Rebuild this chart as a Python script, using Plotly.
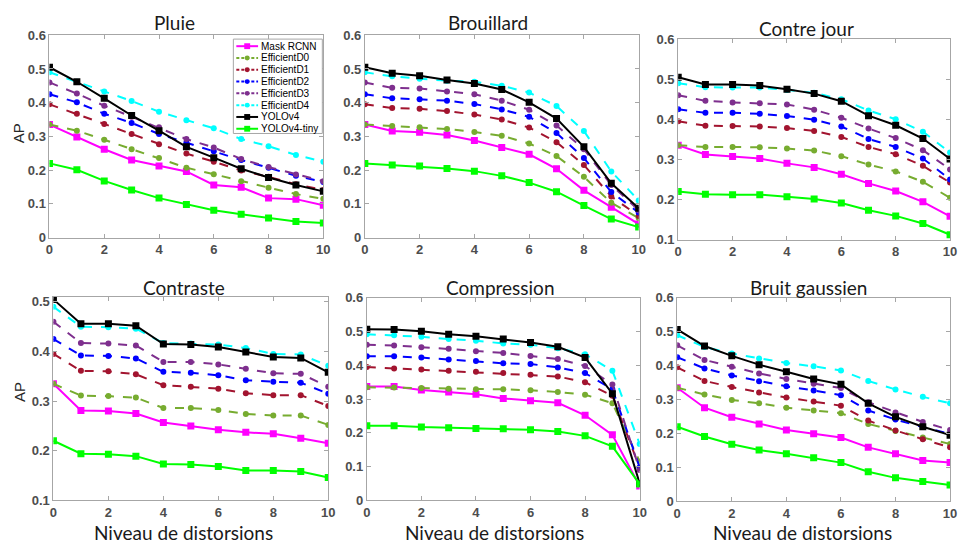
import plotly.graph_objects as go

x_levels = list(range(11))

series_names = ["Mask RCNN", "EfficientD0", "EfficientD1", "EfficientD2",
                "EfficientD3", "EfficientD4", "YOLOv4", "YOLOv4-tiny"]

panel_titles = ["Pluie", "Brouillard", "Contre jour",
                "Contraste", "Compression", "Bruit gaussien"]

pluie = {
    "Mask RCNN":   [0.335, 0.298, 0.262, 0.230, 0.212, 0.196, 0.156, 0.149, 0.117, 0.114, 0.096],
    "EfficientD0": [0.335, 0.317, 0.290, 0.262, 0.236, 0.207, 0.188, 0.167, 0.148, 0.129, 0.115],
    "EfficientD1": [0.395, 0.367, 0.337, 0.307, 0.277, 0.249, 0.225, 0.199, 0.180, 0.158, 0.141],
    "EfficientD2": [0.425, 0.401, 0.367, 0.340, 0.307, 0.281, 0.256, 0.230, 0.207, 0.183, 0.165],
    "EfficientD3": [0.460, 0.427, 0.391, 0.358, 0.327, 0.292, 0.267, 0.233, 0.209, 0.187, 0.167],
    "EfficientD4": [0.490, 0.462, 0.433, 0.405, 0.373, 0.348, 0.324, 0.292, 0.271, 0.245, 0.225],
    "YOLOv4":      [0.505, 0.462, 0.413, 0.362, 0.317, 0.269, 0.237, 0.204, 0.178, 0.156, 0.137],
    "YOLOv4-tiny": [0.220, 0.201, 0.168, 0.141, 0.117, 0.098, 0.081, 0.069, 0.058, 0.048, 0.043],
}

brouillard = {
    "Mask RCNN":   [0.335, 0.316, 0.312, 0.304, 0.288, 0.267, 0.247, 0.204, 0.140, 0.090, 0.040],
    "EfficientD0": [0.335, 0.331, 0.327, 0.322, 0.313, 0.302, 0.279, 0.242, 0.180, 0.103, 0.058],
    "EfficientD1": [0.395, 0.384, 0.382, 0.375, 0.365, 0.350, 0.326, 0.283, 0.215, 0.122, 0.064],
    "EfficientD2": [0.425, 0.413, 0.410, 0.406, 0.396, 0.380, 0.358, 0.310, 0.236, 0.135, 0.074],
    "EfficientD3": [0.460, 0.444, 0.442, 0.433, 0.425, 0.406, 0.379, 0.332, 0.262, 0.156, 0.081],
    "EfficientD4": [0.490, 0.478, 0.471, 0.465, 0.462, 0.450, 0.430, 0.390, 0.316, 0.196, 0.110],
    "YOLOv4":      [0.505, 0.487, 0.480, 0.467, 0.457, 0.439, 0.401, 0.353, 0.269, 0.161, 0.087],
    "YOLOv4-tiny": [0.220, 0.215, 0.212, 0.205, 0.197, 0.183, 0.163, 0.136, 0.095, 0.055, 0.031],
}

contre_jour = {
    "Mask RCNN":   [0.335, 0.312, 0.307, 0.302, 0.290, 0.280, 0.263, 0.240, 0.221, 0.194, 0.158],
    "EfficientD0": [0.335, 0.331, 0.331, 0.330, 0.327, 0.322, 0.308, 0.287, 0.270, 0.244, 0.204],
    "EfficientD1": [0.395, 0.384, 0.383, 0.382, 0.378, 0.371, 0.356, 0.331, 0.313, 0.284, 0.242],
    "EfficientD2": [0.425, 0.416, 0.416, 0.414, 0.408, 0.399, 0.382, 0.351, 0.331, 0.302, 0.250],
    "EfficientD3": [0.460, 0.446, 0.442, 0.440, 0.437, 0.424, 0.404, 0.377, 0.353, 0.323, 0.275],
    "EfficientD4": [0.490, 0.480, 0.479, 0.479, 0.473, 0.466, 0.450, 0.422, 0.400, 0.369, 0.317],
    "YOLOv4":      [0.505, 0.487, 0.487, 0.484, 0.475, 0.464, 0.445, 0.409, 0.385, 0.352, 0.301],
    "YOLOv4-tiny": [0.220, 0.213, 0.212, 0.212, 0.207, 0.201, 0.191, 0.173, 0.159, 0.140, 0.112],
}

contraste = {
    "Mask RCNN":   [0.335, 0.281, 0.280, 0.275, 0.257, 0.250, 0.242, 0.237, 0.234, 0.225, 0.215],
    "EfficientD0": [0.335, 0.311, 0.310, 0.307, 0.286, 0.286, 0.282, 0.274, 0.271, 0.271, 0.252],
    "EfficientD1": [0.395, 0.361, 0.360, 0.354, 0.332, 0.329, 0.325, 0.316, 0.312, 0.312, 0.290],
    "EfficientD2": [0.425, 0.392, 0.391, 0.386, 0.359, 0.357, 0.352, 0.342, 0.339, 0.337, 0.315],
    "EfficientD3": [0.460, 0.417, 0.416, 0.412, 0.379, 0.379, 0.374, 0.365, 0.356, 0.355, 0.329],
    "EfficientD4": [0.490, 0.450, 0.449, 0.446, 0.417, 0.416, 0.414, 0.407, 0.395, 0.394, 0.371],
    "YOLOv4":      [0.505, 0.456, 0.456, 0.452, 0.415, 0.414, 0.409, 0.399, 0.389, 0.387, 0.358],
    "YOLOv4-tiny": [0.220, 0.194, 0.193, 0.189, 0.173, 0.172, 0.168, 0.160, 0.160, 0.158, 0.146],
}

compression = {
    "Mask RCNN":   [0.337, 0.337, 0.327, 0.321, 0.314, 0.302, 0.295, 0.289, 0.252, 0.194, 0.042],
    "EfficientD0": [0.335, 0.334, 0.333, 0.331, 0.329, 0.329, 0.326, 0.321, 0.313, 0.288, 0.115],
    "EfficientD1": [0.395, 0.391, 0.388, 0.384, 0.381, 0.377, 0.372, 0.367, 0.350, 0.310, 0.096],
    "EfficientD2": [0.427, 0.427, 0.423, 0.417, 0.413, 0.406, 0.404, 0.394, 0.377, 0.329, 0.098],
    "EfficientD3": [0.461, 0.459, 0.454, 0.449, 0.442, 0.437, 0.428, 0.419, 0.398, 0.343, 0.090],
    "EfficientD4": [0.492, 0.489, 0.485, 0.478, 0.473, 0.465, 0.461, 0.451, 0.433, 0.384, 0.167],
    "YOLOv4":      [0.507, 0.506, 0.501, 0.492, 0.486, 0.478, 0.468, 0.455, 0.423, 0.316, 0.050],
    "YOLOv4-tiny": [0.221, 0.221, 0.217, 0.215, 0.213, 0.212, 0.209, 0.204, 0.191, 0.160, 0.048],
}

bruit = {
    "Mask RCNN":   [0.335, 0.276, 0.248, 0.228, 0.210, 0.199, 0.188, 0.159, 0.140, 0.120, 0.114],
    "EfficientD0": [0.335, 0.315, 0.299, 0.289, 0.276, 0.268, 0.260, 0.228, 0.207, 0.188, 0.169],
    "EfficientD1": [0.395, 0.355, 0.337, 0.321, 0.306, 0.294, 0.282, 0.238, 0.209, 0.183, 0.159],
    "EfficientD2": [0.425, 0.392, 0.371, 0.354, 0.339, 0.327, 0.313, 0.268, 0.241, 0.219, 0.199],
    "EfficientD3": [0.460, 0.417, 0.397, 0.377, 0.361, 0.347, 0.334, 0.292, 0.262, 0.234, 0.210],
    "EfficientD4": [0.490, 0.455, 0.436, 0.421, 0.408, 0.398, 0.386, 0.355, 0.330, 0.308, 0.289],
    "YOLOv4":      [0.507, 0.458, 0.429, 0.403, 0.382, 0.361, 0.345, 0.289, 0.249, 0.220, 0.195],
    "YOLOv4-tiny": [0.220, 0.191, 0.168, 0.151, 0.140, 0.128, 0.114, 0.087, 0.069, 0.058, 0.048],
}

panels = [pluie, brouillard, contre_jour, contraste, compression, bruit]

y_ranges = [[0, 0.6], [0, 0.6], [0.1, 0.6], [0.1, 0.51], [0, 0.6], [0, 0.6]]
y_tick_vals = [[0, 0.1, 0.2, 0.3, 0.4, 0.5, 0.6],
               [0, 0.1, 0.2, 0.3, 0.4, 0.5, 0.6],
               [0.1, 0.2, 0.3, 0.4, 0.5, 0.6],
               [0.1, 0.2, 0.3, 0.4, 0.5],
               [0, 0.1, 0.2, 0.3, 0.4, 0.5, 0.6],
               [0, 0.1, 0.2, 0.3, 0.4, 0.5, 0.6]]
x_tick_vals = [0, 2, 4, 6, 8, 10]

styles = {
    "Mask RCNN":   dict(color="#FF00FF", dash="solid", symbol="square", msize=7),
    "EfficientD0": dict(color="#77AC30", dash="dash", symbol="circle", msize=6),
    "EfficientD1": dict(color="#A2142F", dash="dash", symbol="circle", msize=6),
    "EfficientD2": dict(color="#0000FF", dash="dash", symbol="circle", msize=6),
    "EfficientD3": dict(color="#7E2F8E", dash="dash", symbol="circle", msize=6),
    "EfficientD4": dict(color="#00FFFF", dash="dash", symbol="circle", msize=6),
    "YOLOv4":      dict(color="#000000", dash="solid", symbol="square", msize=7),
    "YOLOv4-tiny": dict(color="#00FF00", dash="solid", symbol="square", msize=7),
}

W, H = 964, 554
boxes = [(46, 323, 29, 237), (365, 642, 29, 237), (682, 957, 33, 239),
         (50, 328, 298, 507), (367, 643, 299, 507), (681, 957, 299, 508)]

fig = go.Figure()

for i, data in enumerate(panels):
    ax = "" if i == 0 else str(i + 1)
    for name in series_names:
        s = styles[name]
        fig.add_trace(go.Scatter(
            x=x_levels, y=data[name], name=name, mode="lines+markers",
            xaxis="x" + ax, yaxis="y" + ax,
            line=dict(color=s["color"], dash=s["dash"], width=2),
            marker=dict(symbol=s["symbol"], size=s["msize"], color=s["color"]),
            showlegend=False,
        ))

axis_common = dict(showgrid=False, zeroline=False, showline=True,
                   linecolor="#A6A6A6", linewidth=1, mirror="ticks",
                   ticks="inside", ticklen=4, tickcolor="#A6A6A6",
                   tickfont=dict(family="Liberation Sans", size=13, color="#4D4D4D", weight="bold"))

layout = dict(width=W, height=H, margin=dict(l=0, r=0, t=0, b=0),
              plot_bgcolor="white", paper_bgcolor="white", showlegend=False)

for i, (l, r, t, b) in enumerate(boxes):
    ax = "" if i == 0 else str(i + 1)
    layout["xaxis" + ax] = dict(axis_common, domain=[l / W, r / W],
                                range=[0, 10], tickvals=x_tick_vals,
                                anchor="y" + ax)
    layout["yaxis" + ax] = dict(axis_common, domain=[1 - b / H, 1 - t / H],
                                range=y_ranges[i], tickvals=y_tick_vals[i],
                                ticktext=[("%g" % v) for v in y_tick_vals[i]],
                                anchor="x" + ax)

fig.update_layout(**layout)

# ---- annotations: titles, axis labels
title_font = dict(family="Lato", size=19, color="#1A1A1A")
title_pos = [(172, 16), (490, 16), (812, 22), (182, 288), (502, 288), (814, 288)]
annotations = []
for (tx, ty), txt in zip(title_pos, panel_titles):
    annotations.append(dict(text=txt, x=tx / W, y=1 - ty / H, xref="paper", yref="paper",
                            showarrow=False, font=title_font, xanchor="center", yanchor="middle"))

label_font = dict(family="Lato", size=19, color="#1A1A1A")
for cx in [182, 496, 808]:
    annotations.append(dict(text="Niveau de distorsions", x=cx / W, y=1 - 540 / H,
                            xref="paper", yref="paper", showarrow=False, font=label_font,
                            xanchor="center", yanchor="middle"))
for cy in [130, 396]:
    annotations.append(dict(text="AP", x=15 / W, y=1 - cy / H, xref="paper", yref="paper",
                            showarrow=False, textangle=-90,
                            font=dict(family="Liberation Sans", size=15, color="#262626"),
                            xanchor="center", yanchor="middle"))

# ---- compact MATLAB-style legend inside the "Pluie" panel (paper coords)
leg_l, leg_r, leg_t, leg_b = 232, 322, 33, 130
row_h = (leg_b - leg_t) / len(series_names)
shapes = [dict(type="rect", xref="paper", yref="paper", layer="above",
               x0=leg_l / W, x1=leg_r / W, y0=1 - leg_b / H, y1=1 - leg_t / H,
               fillcolor="white", line=dict(color="#A6A6A6", width=1))]
for k, name in enumerate(series_names):
    s = styles[name]
    yc = leg_t + row_h * (k + 0.6)
    yp = 1 - yc / H
    shapes.append(dict(type="line", xref="paper", yref="paper", layer="above",
                       x0=(leg_l + 3) / W, x1=(leg_l + 25) / W, y0=yp, y1=yp,
                       line=dict(color=s["color"], width=2,
                                 dash="solid" if s["dash"] == "solid" else "3px,2px")))
    mx = leg_l + 14
    half = 3 if s["symbol"] == "square" else 2.5
    shapes.append(dict(type="rect" if s["symbol"] == "square" else "circle",
                       xref="paper", yref="paper", layer="above",
                       x0=(mx - half) / W, x1=(mx + half) / W,
                       y0=1 - (yc + half) / H, y1=1 - (yc - half) / H,
                       fillcolor=s["color"], line=dict(color=s["color"], width=0)))
    annotations.append(dict(text=name, x=(leg_l + 26) / W, y=yp, xref="paper", yref="paper",
                            showarrow=False, xanchor="left", yanchor="middle",
                            font=dict(family="Liberation Sans", size=10, color="#000000")))

fig.update_layout(annotations=annotations, shapes=shapes)

fig.write_html("out.html", config={"displayModeBar": False},
               post_script="document.body.style.margin='0';document.body.style.overflow='hidden';")
